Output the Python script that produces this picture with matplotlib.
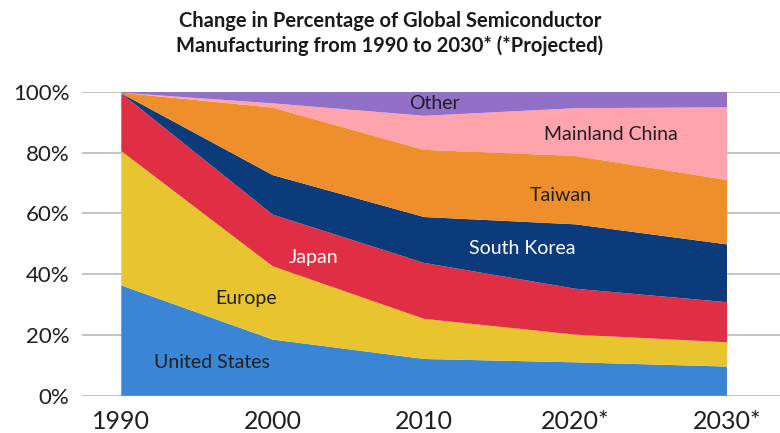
import numpy as np
import matplotlib.pyplot as plt

plt.rcParams["font.family"] = ["Lato", "DejaVu Sans"]

# data (share of global semiconductor manufacturing, %)
years = [1990, 2000, 2010, 2020, 2030]
year_labels = ["1990", "2000", "2010", "2020*", "2030*"]
us = [36.3, 18.5, 12.1, 11.0, 9.6]
europe = [44.2, 24.1, 13.2, 9.1, 8.0]
japan = [19.0, 17.0, 18.4, 15.1, 13.2]
korea = [0.0, 13.0, 15.1, 21.2, 19.0]
taiwan = [0.2, 22.2, 22.1, 22.5, 21.2]
china = [0.0, 1.4, 11.2, 15.7, 23.9]
other = [0.3, 3.8, 7.9, 5.4, 5.1]

names = ["United States", "Europe", "Japan", "South Korea", "Taiwan", "Mainland China", "Other"]
colors = ["#3A86D4", "#E8C42E", "#E02F45", "#0B3B7B", "#EE8F2B", "#FFA4AD", "#9270C8"]

fig = plt.figure(figsize=(7.8, 4.33), dpi=100)
ax = fig.add_axes([0.105, 0.086, 0.895, 0.702])

ax.stackplot(years, us, europe, japan, korea, taiwan, china, other,
             colors=colors, linewidth=0, zorder=2)

ax.set_xlim(1987.4, 2033.5)
ax.set_ylim(0, 100)
ax.set_yticks(np.arange(0, 101, 20))
ax.set_yticklabels([f"{v}%" for v in range(0, 101, 20)])
ax.set_xticks(years)
ax.set_xticklabels(year_labels)
ax.grid(axis="y", color="#BFBFBF", lw=1.3, zorder=1)
for s in ax.spines.values():
    s.set_visible(False)
ax.tick_params(axis="y", length=0, pad=9, labelsize=16, labelcolor="#1f1f1f")
ax.tick_params(axis="x", length=0, pad=10, labelsize=18, labelcolor="#1f1f1f")

# series labels
dark = "#1f1f1f"
ax.text(1996.0, 10.9, "United States", ha="center", va="center", fontsize=14, color=dark)
ax.text(1998.25, 32, "Europe", ha="center", va="center", fontsize=14, color=dark)
ax.text(2002.7, 45.5, "Japan", ha="center", va="center", fontsize=14, color="white")
ax.text(2016.5, 48.5, "South Korea", ha="center", va="center", fontsize=14, color="white")
ax.text(2019.0, 66, "Taiwan", ha="center", va="center", fontsize=14, color=dark)
ax.text(2022.3, 86, "Mainland China", ha="center", va="center", fontsize=14, color=dark)
ax.text(2010.7, 96, "Other", ha="center", va="center", fontsize=14, color=dark)

fig.text(0.5, 0.923, "Change in Percentage of Global Semiconductor\nManufacturing from 1990 to 2030* (*Projected)",
         ha="center", va="center", fontsize=14.5, fontweight="bold", color="#1a1a1a", linespacing=1.3)

fig.savefig("out.png", dpi=100)
